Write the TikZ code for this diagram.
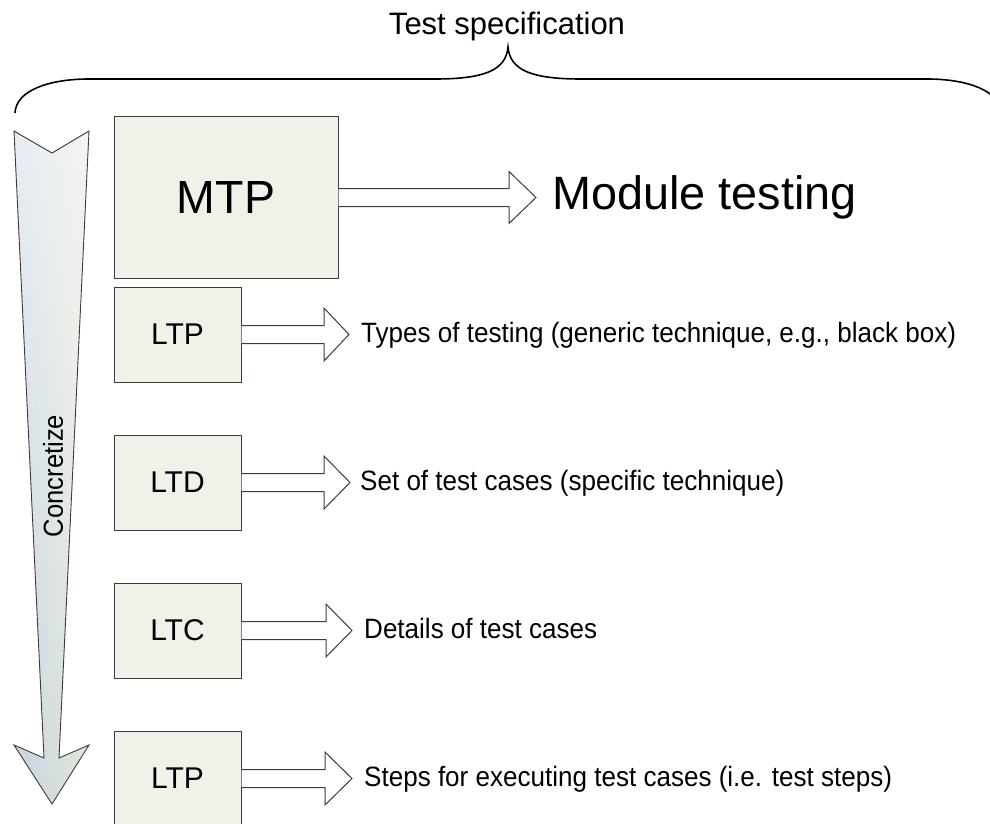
\documentclass[tikz,border=0pt]{standalone}
\usepackage{fontspec}
\setmainfont{Liberation Sans}
\newfontfamily\nsans[FakeStretch=0.93]{Liberation Sans}
\usetikzlibrary{calc,fadings}
\definecolor{boxfill}{RGB}{240,241,233}
\definecolor{boxline}{RGB}{60,60,60}
\definecolor{arrblue}{RGB}{196,210,226}
\definecolor{arrbeige}{RGB}{228,231,216}
\tikzset{
 stagebox/.style={draw=boxline, line width=1pt, fill=boxfill, inner sep=0pt, font=\fontsize{30}{36}\selectfont},
 bigbox/.style={stagebox, minimum width=224pt, minimum height=161pt, font=\fontsize{46.5}{55}\selectfont},
 smallbox/.style={stagebox, minimum width=127pt, minimum height=95pt},
 desc/.style={anchor=base west, inner sep=0pt, font=\nsans\fontsize{28}{32}\selectfont},
 blockarr/.style={draw=boxline, line width=1pt, fill=white, line join=miter},
 brace/.style={draw=black, line width=1.6pt},
}
\newcommand\blockarrow[5]{%
 \draw[blockarr] let \p1=(#1), \p2=(#2) in (\x1,\y1+#3) -- (\x2-#5,\y1+#3) -- (\x2-#5,\y1+#4) -- (\x2,\y1) -- (\x2-#5,\y1-#4) -- (\x2-#5,\y1-#3) -- (\x1,\y1-#3);}
\begin{document}
\begin{tikzpicture}[x=1pt,y=1pt]
\useasboundingbox (0,0) rectangle (990,-824);
\clip (0,0) rectangle (990,-824);
% brace
\draw[brace] (15,-113) .. controls (16,-90) and (50,-79) .. (89,-79) -- (435,-79)
  .. controls (485,-79) and (506,-70) .. (508,-47)
  .. controls (510,-70) and (531,-79) .. (581,-79) -- (927,-79)
  .. controls (966,-79) and (1000,-90) .. (1001,-113);
\node[anchor=base, inner sep=0pt, font=\fontsize{31}{36}\selectfont] (spec) at (507,-35) {Test specification};
% concretize arrow
\shade[left color=arrblue, right color=arrbeige]
  (14,-131) -- (52,-153) -- (89,-131) -- (59,-758) -- (89,-745) -- (52,-804) -- (14,-745) -- (44,-758) -- cycle;
\fill[white, fill opacity=0.6, path fading=south]
  (14,-131) -- (52,-153) -- (89,-131) -- (59,-758) -- (89,-745) -- (52,-804) -- (14,-745) -- (44,-758) -- cycle;
\draw[boxline, line width=0.9pt, line join=miter]
  (14,-131) -- (52,-153) -- (89,-131) -- (59,-758) -- (89,-745) -- (52,-804) -- (14,-745) -- (44,-758) -- cycle;
\node[rotate=90, inner sep=0pt, font=\nsans\fontsize{27.5}{30}\selectfont] (concr) at (53,-476) {Concretize};
% boxes
\node[bigbox] (mtp) at (226,-197.5) {MTP};
\node[smallbox] (ltp) at (177.5,-334.5) {LTP};
\node[smallbox] (ltd) at (177.5,-482.5) {LTD};
\node[smallbox] (ltc) at (177.5,-630.5) {LTC};
\node[smallbox] (ltpb) at (177.5,-778.5) {LTP};
% tips
\coordinate (t0) at (536,-198);
\coordinate (t1) at (349,-334.5);
\coordinate (t2) at (350,-482.5);
\coordinate (t3) at (352,-630.5);
\coordinate (t4) at (352,-778.5);
\blockarrow{mtp.east}{t0}{9pt}{26pt}{27pt}
\blockarrow{ltp.east}{t1}{9pt}{26.5pt}{25pt}
\blockarrow{ltd.east}{t2}{9pt}{26.5pt}{26pt}
\blockarrow{ltc.east}{t3}{9pt}{26.5pt}{26pt}
\blockarrow{ltpb.east}{t4}{9pt}{26.5pt}{27pt}
% texts
\node[anchor=base west, inner sep=0pt, font=\fontsize{46.8}{55}\selectfont] (mod) at (552,-209) {Module testing};
\node[desc] (d1) at (361,-342) {Types of testing (generic technique, e.g., black box)};
\node[desc] (d2) at (360,-490) {Set of test cases (specific technique)};
\node[desc] (d3) at (364,-638) {Details of test cases};
\node[desc] (d4) at (364,-786) {Steps for executing test cases (i.e. test steps)};
\end{tikzpicture}
\end{document}
